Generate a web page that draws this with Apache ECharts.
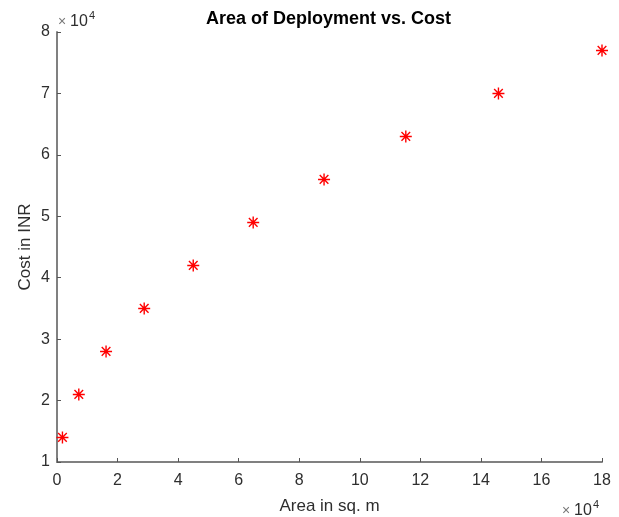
<!DOCTYPE html>
<html>
<head>
<meta charset="utf-8">
<script src="https://cdn.jsdelivr.net/npm/echarts@6/dist/echarts.min.js"></script>
<style>html,body{margin:0;padding:0;background:#fff}#c{width:619px;height:517px}</style>
</head>
<body>
<div id="c"></div>
<script>
// Data (real units)
const areaSqM = [1800, 7200, 16200, 28800, 45000, 64800, 88200, 115200, 145800, 180000];
const costINR = [14000, 21000, 28000, 35000, 42000, 49000, 56000, 63000, 70000, 77000];
const xTickScale = 10000;
const yTickScale = 10000;

const chart = echarts.init(document.getElementById('c'), null, {renderer: 'canvas'});
const font = 'Liberation Sans, Arial, Helvetica, sans-serif';
const axisCol = '#808080';
const txtCol = '#2e2e2e';

const star = 'path://M0,-5L0,5M-5,0L5,0M-3.6,-3.6L3.6,3.6M-3.6,3.6L3.6,-3.6';

chart.setOption({
  animation: false,
  backgroundColor: '#ffffff',
  title: {
    text: 'Area of Deployment vs. Cost',
    left: 201, top: 5,
    textStyle: {fontFamily: font, fontSize: 18, fontWeight: 'bold', color: '#000'}
  },
  grid: {left: 57, right: 17, top: 32, bottom: 55, containLabel: false, outerBoundsMode: 'none'},
  xAxis: {
    type: 'value', min: 0, max: 180000, interval: 20000,
    name: 'Area in sq. m', nameLocation: 'middle', nameGap: 36, nameMoveOverlap: false,
    nameTextStyle: {fontFamily: font, fontSize: 17, color: txtCol},
    axisLine: {show: true, lineStyle: {color: axisCol, width: 2}},
    axisTick: {show: true, inside: true, length: 4, lineStyle: {color: '#555', width: 1}},
    axisLabel: {fontFamily: font, fontSize: 16, color: txtCol, margin: 11,
      formatter: v => String(v / xTickScale)},
    splitLine: {show: false}
  },
  yAxis: {
    type: 'value', min: 10000, max: 80000, interval: 10000,
    name: 'Cost in INR', nameLocation: 'middle', nameGap: 23, nameMoveOverlap: false,
    nameTextStyle: {fontFamily: font, fontSize: 17, color: txtCol},
    axisLine: {show: true, lineStyle: {color: axisCol, width: 2}},
    axisTick: {show: true, inside: true, length: 4, lineStyle: {color: '#555', width: 1}},
    axisLabel: {fontFamily: font, fontSize: 16, color: txtCol, margin: 7,
      formatter: v => String(v / yTickScale)},
    splitLine: {show: false}
  },
  graphic: [
    {type: 'text', left: 58, top: 15, style: {text: '×', fontFamily: font, fontSize: 14, fill: '#777'}},
    {type: 'text', left: 70, top: 14, style: {text: '10', fontFamily: font, fontSize: 16, fill: txtCol}},
    {type: 'text', left: 89, top: 10, style: {text: '4', fontFamily: font, fontSize: 11, fill: txtCol}},
    {type: 'text', left: 562, top: 504, style: {text: '×', fontFamily: font, fontSize: 14, fill: '#777'}},
    {type: 'text', left: 574, top: 503, style: {text: '10', fontFamily: font, fontSize: 16, fill: txtCol}},
    {type: 'text', left: 593, top: 499, style: {text: '4', fontFamily: font, fontSize: 11, fill: txtCol}}
  ],
  series: [{
    type: 'scatter',
    data: areaSqM.map((a, i) => [a, costINR[i]]),
    symbol: star,
    symbolSize: 12,
    itemStyle: {color: 'rgba(255,0,0,0)', borderColor: '#ff0000', borderWidth: 1.4, opacity: 1},
    emphasis: {disabled: true},
    clip: false
  }]
});
</script>
</body>
</html>
